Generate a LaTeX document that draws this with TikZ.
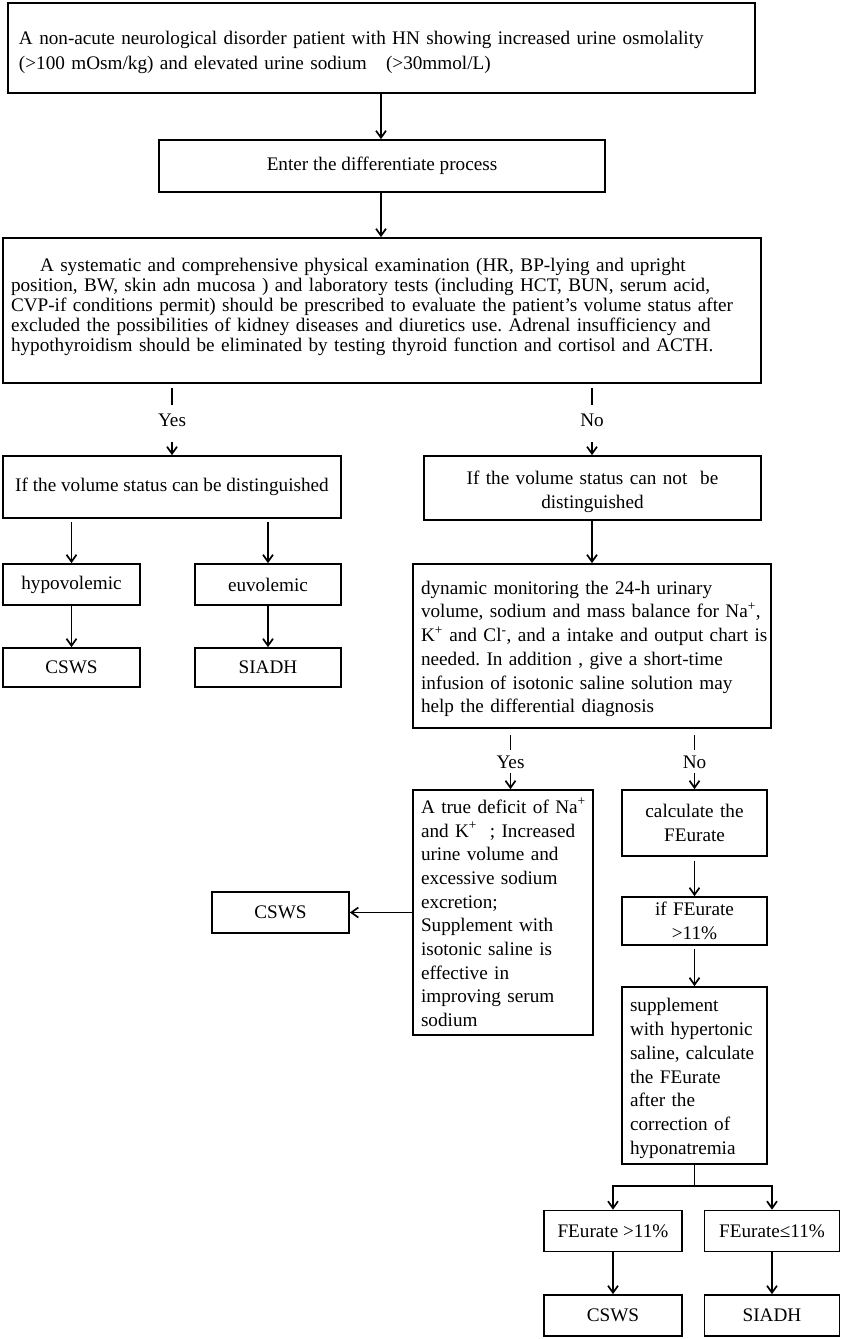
\documentclass[tikz,border=0pt]{standalone}
\usepackage{fontspec}
\setmainfont{Liberation Serif}
\usetikzlibrary{arrows.meta}
\frenchspacing
\begin{document}
\begin{tikzpicture}[x=1pt,y=-1pt,
  bx/.style={draw, line width=1.7pt, inner ysep=0pt, inner xsep=4pt, align=center,
    font=\fontsize{19.2}{23.7}\selectfont},
  lbl/.style={inner sep=0pt, minimum height=20pt, font=\fontsize{19.2}{23.7}\selectfont},
  arr/.style={-{Straight Barb[length=7pt,width=10pt]}, line width=1.7pt},
  seg/.style={line width=1.7pt}]
\useasboundingbox (0,0) rectangle (843,1339);

\node[bx, text width=725pt, inner xsep=11pt, minimum height=90pt, align=left,
  text height=0pt, text depth=8pt,
  font=\fontsize{19.2}{25}\selectfont] (b1) at (381.5,48)
  {\mbox{A non-acute neurological disorder patient with HN showing increased urine osmolality}\\
   (>100 mOsm/kg) and elevated urine sodium\ \ \ (>30mmol/L)};

\node[bx, minimum width=446pt, minimum height=52pt] (b2) at (382,166)
  {Enter the differentiate process};

\node[bx, text width=742pt, inner xsep=8pt, minimum height=145pt, align=left,
  text height=0pt, text depth=79pt,
  font=\fontsize{19.2}{20}\selectfont] (b3) at (382,310.5)
  {\hspace*{29pt}A systematic and comprehensive physical examination (HR, BP-lying and upright\\
   \mbox{position, BW, skin adn mucosa ) and laboratory tests (including HCT, BUN, serum acid,}\\
   \mbox{CVP-if conditions permit) should be prescribed to evaluate the patient's volume status after}\\
   \mbox{excluded the possibilities of kidney diseases and diuretics use. Adrenal insufficiency and}\\
   \mbox{hypothyroidism should be eliminated by testing thyroid function and cortisol and ACTH.}};

\node[lbl] (yes1) at (172,420) {Yes};
\node[lbl] (no1) at (592,420) {No};

\node[bx, minimum width=338pt, minimum height=62pt] (b4l) at (172,487)
  {If the volume status can be distinguished};
\node[bx, text width=329pt, minimum height=64pt, text height=0pt, text depth=6.8pt] (b4r) at (592.5,488)
  {If the volume status can not\ \ be\\distinguished};

\node[bx, minimum width=137pt, minimum height=41pt] (hypo) at (71.5,584.5) {hypovolemic};
\node[bx, minimum width=146pt, minimum height=41pt] (euvo) at (268,584.5) {euvolemic};
\node[bx, minimum width=137pt, minimum height=39pt] (cs1) at (71.5,667.5) {CSWS};
\node[bx, minimum width=146pt, minimum height=39pt] (si1) at (268,667.5) {SIADH};

\node[bx, text width=342pt, inner xsep=8pt, minimum height=164pt, align=left,
  text height=0pt, text depth=103.6pt] (dyn) at (592,646)
  {\mbox{dynamic monitoring the 24-h urinary}\\
   \mbox{volume, sodium and mass balance for Na\textsuperscript{+},}\\
   \mbox{K\textsuperscript{+} and Cl\textsuperscript{-}, and a intake and output chart is}\\
   \mbox{needed. In addition , give a short-time}\\
   \mbox{infusion of isotonic saline solution may}\\
   \mbox{help the differential diagnosis}};

\node[lbl] (yes2) at (510.5,762) {Yes};
\node[lbl] (no2) at (694.5,762) {No};

\node[bx, text width=164pt, inner xsep=8pt, minimum height=245pt, align=left] (td) at (503,912.5)
  {\mbox{A true deficit of Na\textsuperscript{+}}\\
   \mbox{and K\textsuperscript{+}\ \ ; Increased}\\
   urine volume and\\
   excessive sodium\\
   excretion;\\
   Supplement with\\
   isotonic saline is\\
   effective in\\
   improving serum\\
   sodium};

\node[bx, text width=137pt, minimum height=66pt] (calc) at (694.5,823) {calculate the\\FEurate};
\node[bx, text width=137pt, minimum height=48pt] (iffe) at (694.5,921) {if FEurate\\>11\%};
\node[bx, text width=129pt, inner xsep=8pt, minimum height=177pt, align=left,
  text height=0pt, text depth=127.2pt] (supp) at (694.5,1075.5)
  {supplement\\with hypertonic\\\mbox{saline, calculate}\\the FEurate\\after the\\correction of\\hyponatremia};

\node[bx, minimum width=137pt, minimum height=41pt] (cs2) at (280.5,912.5) {CSWS};

\coordinate (br) at (694.5,1186);
\node[bx, minimum width=138pt, minimum height=41pt] (fe1) at (613,1231) {FEurate >11\%};
\node[bx, minimum width=135pt, minimum height=41pt] (fe2) at (772,1231) {FEurate≤11\%};
\node[bx, minimum width=138pt, minimum height=41pt] (cs3) at (613,1315.5) {CSWS};
\node[bx, minimum width=135pt, minimum height=41pt] (si3) at (772,1315.5) {SIADH};

% connectors
\draw[arr] (b1.south -| 381,0) -- (b2.north -| 381,0);
\draw[arr] (b2.south -| 381,0) -- (b3.north -| 381,0);

\draw[seg, shorten <=4pt, shorten >=5pt] (b3.south -| yes1) -- (yes1.north);
\draw[arr, shorten <=12pt] (yes1.south) -- (b4l.north -| yes1);
\draw[seg, shorten <=4pt, shorten >=5pt] (b3.south -| no1) -- (no1.north);
\draw[arr, shorten <=12pt] (no1.south) -- (b4r.north -| no1);

\draw[arr, shorten <=3pt] (b4l.south -| hypo) -- (hypo.north);
\draw[arr, shorten <=3pt] (b4l.south -| euvo) -- (euvo.north);
\draw[arr] (hypo) -- (cs1);
\draw[arr] (euvo) -- (si1);

\draw[arr] (b4r.south -| no1) -- (dyn.north -| no1);

\draw[seg, shorten <=6pt, shorten >=2pt] (dyn.south -| yes2) -- (yes2.north);
\draw[arr, shorten <=1pt] (yes2.south) -- (td.north -| yes2);
\draw[seg, shorten <=6pt, shorten >=2pt] (dyn.south -| no2) -- (no2.north);
\draw[arr, shorten <=1pt] (no2.south) -- (calc.north);

\draw[arr] (td.west) -- (cs2.east);
\draw[arr, shorten <=4pt] (calc) -- (iffe);
\draw[arr, shorten <=3pt] (iffe) -- (supp);

\draw[seg] (supp.south) -- (br);
\draw[arr] (br) -| (fe1.north);
\draw[arr] (br) -| (fe2.north);
\draw[arr] (fe1) -- (cs3);
\draw[arr] (fe2) -- (si3);
\end{tikzpicture}
\end{document}
